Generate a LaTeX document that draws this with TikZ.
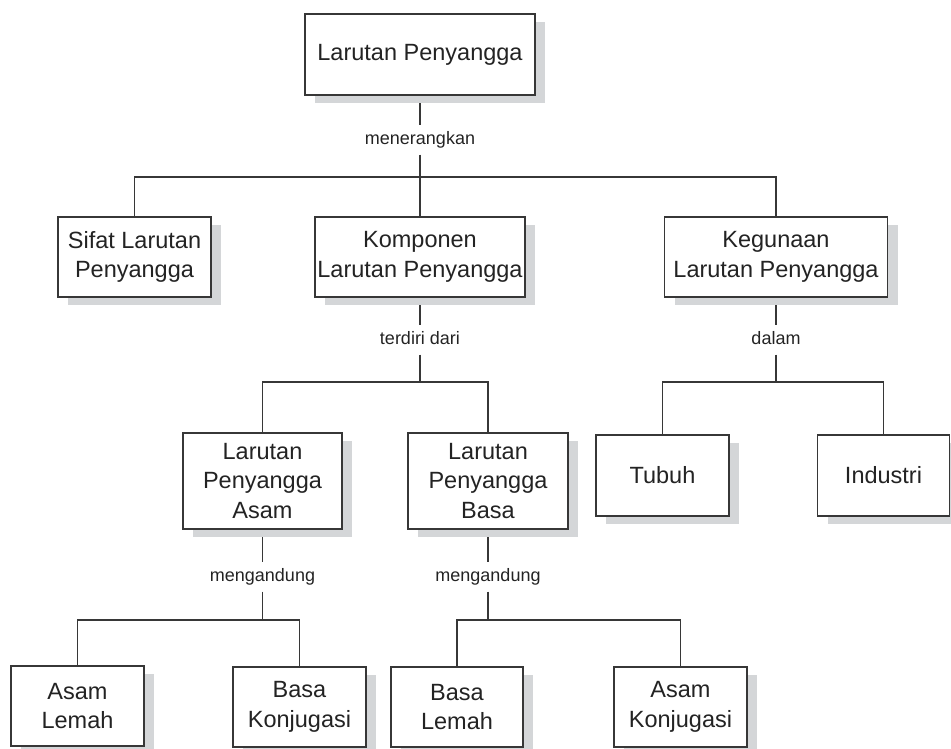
\documentclass[tikz,border=0pt]{standalone}
\usepackage{fontspec}
\setmainfont{Liberation Sans}
\usetikzlibrary{backgrounds}
\definecolor{shadowgray}{RGB}{212,214,216}
\definecolor{linegray}{RGB}{55,55,55}
\definecolor{textgray}{RGB}{35,35,35}
\begin{document}
\begin{tikzpicture}[x=1pt,y=-1pt,
  box/.style={draw=linegray, line width=1.3pt, fill=white, align=center, text=textgray,
    font=\fontsize{23.5}{29.5}\selectfont, inner sep=0pt,
    preaction={fill=shadowgray, draw=none, transform canvas={xshift=10pt,yshift=-8pt}}},
  lbl/.style={font=\fontsize{18}{22}\selectfont, text=textgray, text height=13pt, text depth=4pt,
    inner xsep=2pt, inner ysep=6pt},
  conn/.style={draw=linegray, line width=1.3pt}]
\useasboundingbox (0,0) rectangle (951,749);

% row 1
\node[box, minimum width=230pt, minimum height=81pt] (top) at (420,54.5) {Larutan Penyangga};
% row 2
\node[box, minimum width=153pt, minimum height=80pt] (sifat) at (134.5,257) {Sifat Larutan\\Penyangga};
\node[box, minimum width=210pt, minimum height=80pt] (komp) at (420,257) {Komponen\\Larutan Penyangga};
\node[box, minimum width=223pt, minimum height=80pt] (keg) at (776,257) {Kegunaan\\Larutan Penyangga};
% row 3
\node[box, minimum width=159pt, minimum height=96pt] (lpa) at (262.5,481) {Larutan\\Penyangga\\Asam};
\node[box, minimum width=160pt, minimum height=96pt] (lpb) at (488,481) {Larutan\\Penyangga\\Basa};
\node[box, minimum width=133pt, minimum height=81pt] (tubuh) at (662.5,475.5) {Tubuh};
\node[box, minimum width=132pt, minimum height=81pt] (ind) at (883.5,475.5) {Industri};
% row 4
\node[box, minimum width=133pt, minimum height=80pt] (al) at (77.5,706) {Asam\\Lemah};
\node[box, minimum width=133pt, minimum height=80pt] (bk) at (299.5,707) {Basa\\Konjugasi};
\node[box, minimum width=132pt, minimum height=80pt] (bl) at (457,707) {Basa\\Lemah};
\node[box, minimum width=133pt, minimum height=80pt] (ak) at (680.5,707) {Asam\\Konjugasi};

% labels
\node[lbl] (l1) at (420,140) {menerangkan};
\node[lbl] (l2) at (420,340) {terdiri dari};
\node[lbl] (l3) at (776,340) {dalam};
\node[lbl] (l4) at (262.5,577) {mengandung};
\node[lbl] (l5) at (488,577) {mengandung};

% junctions
\coordinate (j1) at (420,177);
\coordinate (j2) at (420,382);
\coordinate (j3) at (776,382);
\coordinate (j4) at (262.5,620);
\coordinate (j5) at (488,620);

\begin{scope}[on background layer]
\draw[conn] (top.south) -- (l1.north);
\draw[conn] (l1.south) -- (j1);
\draw[conn] (sifat.north) |- (j1) -| (keg.north);
\draw[conn] (j1) -- (komp.north);

\draw[conn] (komp.south) -- (l2.north);
\draw[conn] (l2.south) -- (j2);
\draw[conn] (lpa.north) |- (j2) -| (lpb.north);

\draw[conn] (keg.south) -- (l3.north);
\draw[conn] (l3.south) -- (j3);
\draw[conn] (tubuh.north) |- (j3) -| (ind.north);

\draw[conn] (lpa.south) -- (l4.north);
\draw[conn] (l4.south) -- (j4);
\draw[conn] (al.north) |- (j4) -| (bk.north);

\draw[conn] (lpb.south) -- (l5.north);
\draw[conn] (l5.south) -- (j5);
\draw[conn] (bl.north) |- (j5) -| (ak.north);
\end{scope}
\end{tikzpicture}
\end{document}
